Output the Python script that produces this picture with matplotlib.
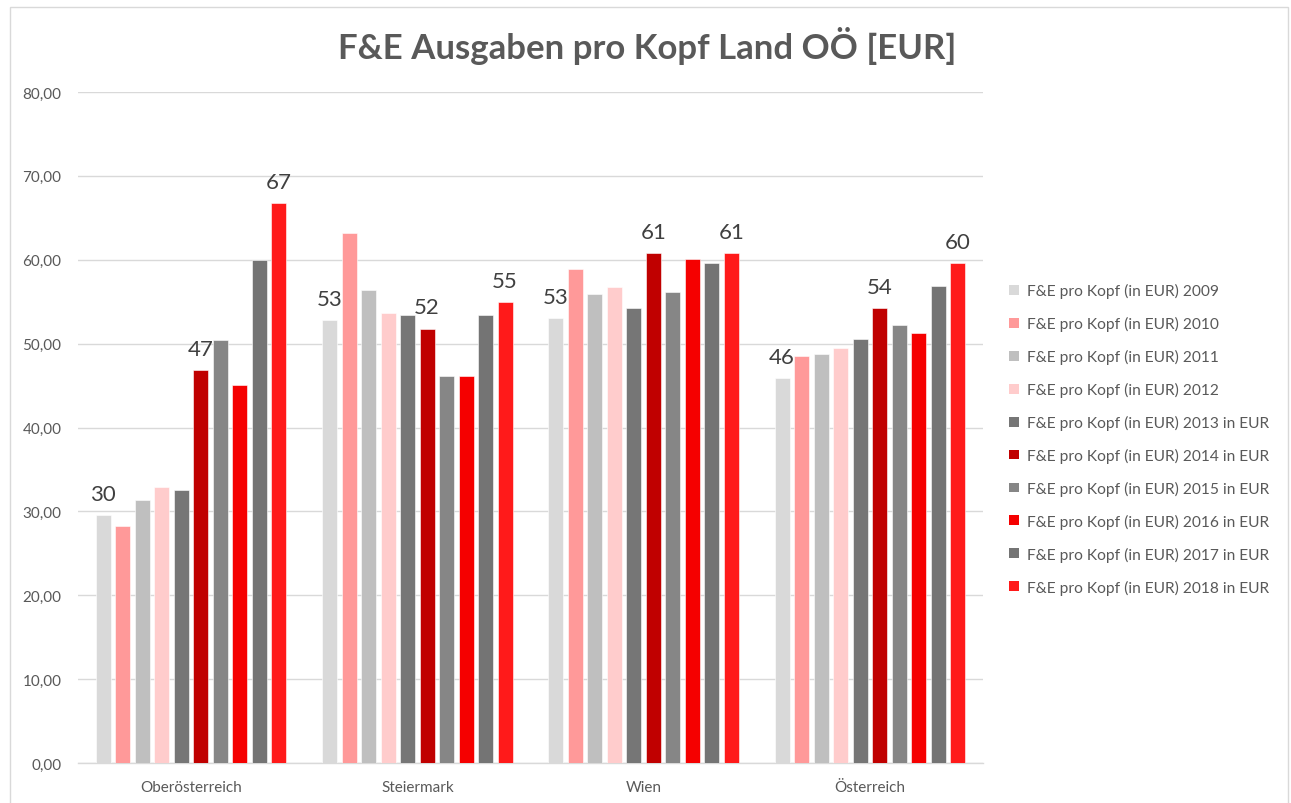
import matplotlib
matplotlib.use("Agg")
import matplotlib.pyplot as plt
from matplotlib.patches import Patch, Rectangle
import numpy as np

plt.rcParams['font.family'] = ['Lato', 'DejaVu Sans']

categories = ["Oberösterreich", "Steiermark", "Wien", "Österreich"]
series_labels = [
    "F&E pro Kopf (in EUR) 2009",
    "F&E pro Kopf (in EUR) 2010",
    "F&E pro Kopf (in EUR) 2011",
    "F&E pro Kopf (in EUR) 2012",
    "F&E pro Kopf (in EUR) 2013 in EUR",
    "F&E pro Kopf (in EUR) 2014 in EUR",
    "F&E pro Kopf (in EUR) 2015 in EUR",
    "F&E pro Kopf (in EUR) 2016 in EUR",
    "F&E pro Kopf (in EUR) 2017 in EUR",
    "F&E pro Kopf (in EUR) 2018 in EUR",
]
v2009 = [29.6, 52.8, 53.0, 45.9]
v2010 = [28.2, 63.2, 58.9, 48.5]
v2011 = [31.4, 56.4, 55.9, 48.8]
v2012 = [32.9, 53.7, 56.7, 49.5]
v2013 = [32.6, 53.4, 54.2, 50.5]
v2014 = [46.8, 51.8, 60.8, 54.2]
v2015 = [50.4, 46.1, 56.1, 52.2]
v2016 = [45.1, 46.1, 60.1, 51.3]
v2017 = [60.0, 53.4, 59.6, 56.9]
v2018 = [66.8, 55.0, 60.8, 59.6]
series_values = [v2009, v2010, v2011, v2012, v2013, v2014, v2015, v2016, v2017, v2018]
labelled_series = [0, 5, 9]

colors = ["#D9D9D9", "#FF9999", "#BFBFBF", "#FFCCCC", "#767676",
          "#C00000", "#868686", "#F50000", "#747474", "#FF1A1A"]

yticks = np.arange(0, 81, 10)
ytick_labels = [f"{t:.2f}".replace(".", ",") for t in yticks]

W, H = 1291, 804
fig = plt.figure(figsize=(W / 100, H / 100), dpi=100)
fig.patch.set_facecolor("white")

# chart border
fig.patches.append(Rectangle((10 / W, -0.05), (1288 - 10) / W, 1.05 - 8 / H,
                             transform=fig.transFigure, fill=False,
                             edgecolor="#D9D9D9", linewidth=1.0))

ax = fig.add_axes([78 / W, 1 - 764 / H, (983 - 78) / W, (764 - 93) / H])
x = np.arange(len(categories))
pitch = 0.0862
width = 0.0663
for i, (vals, col, lab) in enumerate(zip(series_values, colors, series_labels)):
    bars = ax.bar(x + (i - 4.5) * pitch, vals, width=width, color=col,
                  label=lab, zorder=3, edgecolor="white", linewidth=0.4)
    if i in labelled_series:
        ax.bar_label(bars, labels=[f"{v:.0f}" for v in vals], padding=8,
                     fontsize=16, color="#404040", zorder=4)

ax.set_xlim(-0.5, 3.5)
ax.set_ylim(0, 80)
ax.set_yticks(yticks)
ax.set_yticklabels(ytick_labels)
ax.set_xticks(x)
ax.set_xticklabels(categories)
ax.tick_params(axis="both", length=0, labelsize=11, colors="#595959")
ax.tick_params(axis="y", pad=12)
ax.tick_params(axis="x", pad=12)
ax.grid(axis="y", color="#D9D9D9", linewidth=1.0, zorder=0)
for s in ["top", "right", "left"]:
    ax.spines[s].set_visible(False)
ax.spines["bottom"].set_color("#D9D9D9")
ax.spines["bottom"].set_linewidth(1.0)
ax.set_facecolor("white")

fig.text(647 / W, 1 - 46 / H, "F&E Ausgaben pro Kopf Land OÖ [EUR]",
         ha="center", va="center", fontsize=25, fontweight="bold", color="#595959")

handles = [Patch(facecolor=c, edgecolor="none") for c in colors]
leg = fig.legend(handles, series_labels, loc="center left",
                 bbox_to_anchor=(1003 / W, 1 - 440 / H), frameon=False,
                 fontsize=11.2, handlelength=0.6, handleheight=0.6,
                 handletextpad=0.55, labelspacing=1.15, borderaxespad=0)
for t in leg.get_texts():
    t.set_color("#595959")

fig.savefig("out.png", dpi=100, facecolor="white")
